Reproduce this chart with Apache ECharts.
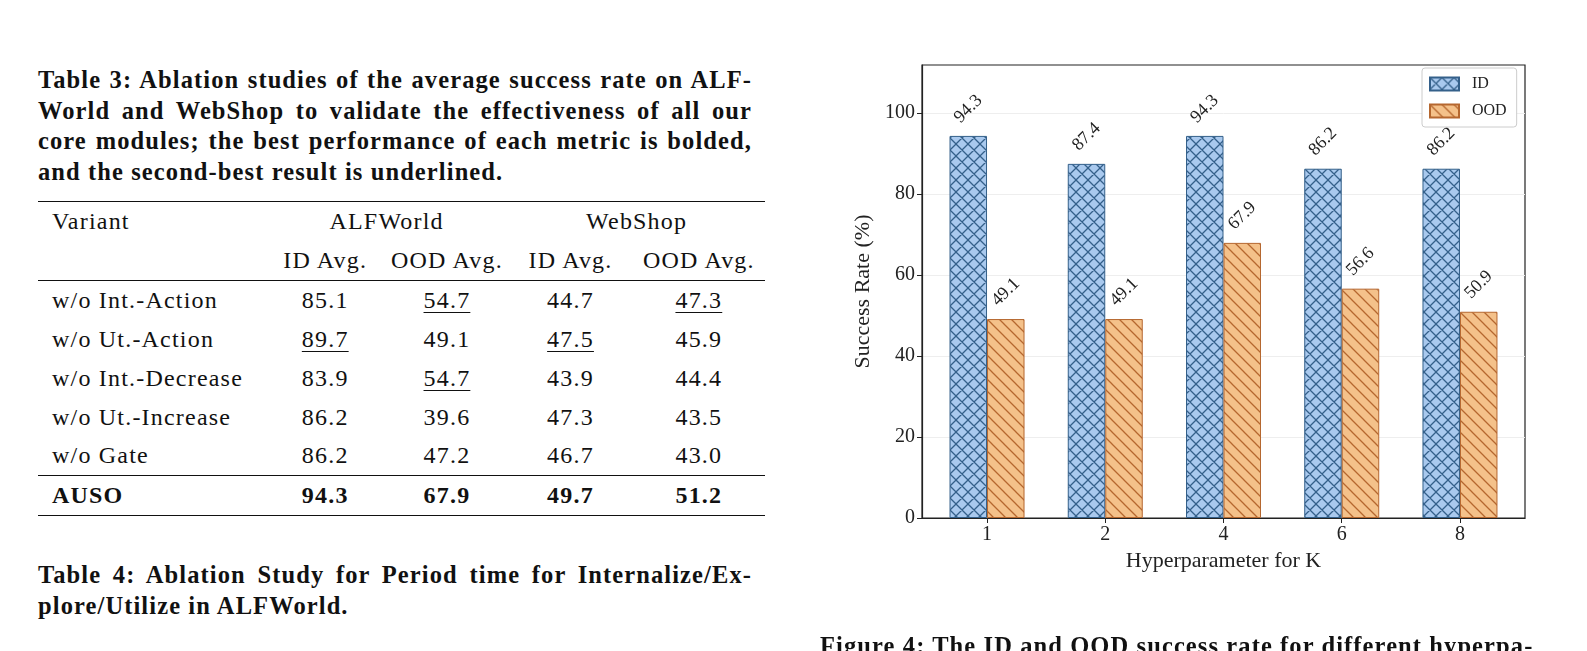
<!DOCTYPE html>
<html lang="en">
<head>
<meta charset="UTF-8">
<title>K ablation</title>
<style>
    html, body {
        margin: 0;
        padding: 0;
        overflow: hidden;
        background: #fff;
        font-family: "Liberation Serif", serif;
        color: #111;
    }
    #page {
        position: relative;
        width: 1587px;
        height: 651px;
        overflow: hidden;
    }
    .cap {
        position: absolute;
        font-weight: bold;
        font-size: 24.5px;
        letter-spacing: 1.1px;
        line-height: 30.5px;
    }
    .cap div {
        text-align: justify;
        text-align-last: justify;
        white-space: nowrap;
    }
    .cap div.last {
        text-align-last: left;
    }
    #tbl {
        position: absolute;
        left: 38px;
        top: 201px;
        width: 727px;
        border-collapse: collapse;
        font-size: 24px;
        letter-spacing: 1.2px;
    }
    #tbl td {
        padding: 0;
        text-align: center;
        vertical-align: middle;
    }
    #tbl td.v {
        text-align: left;
        padding-left: 14px;
    }
    #tbl tr.top td { border-top: 1.6px solid #111; }
    #tbl tr.mid td { border-bottom: 1.3px solid #111; }
    #tbl tr.best td { border-top: 1.3px solid #111; border-bottom: 1.6px solid #111; font-weight: bold; }
    .u { text-decoration: underline; text-underline-offset: 4px; text-decoration-thickness: 1px; }
    #main {
        position: absolute;
        left: 800px;
        top: 0;
        width: 787px;
        height: 651px;
    }
    #fig4 {
        position: absolute;
        left: 820px;
        top: 631px;
        font-weight: bold;
        font-size: 24.5px;
        letter-spacing: 1.1px;
        line-height: 30.5px;
        white-space: nowrap;
        z-index: 5;
    }
</style>
</head>
<body>
<div id="page">
    <div class="cap" style="left:38px; top:65px; width:714px;">
        <div>Table 3: Ablation studies of the average success rate on ALF-</div>
        <div>World and WebShop to validate the effectiveness of all our</div>
        <div>core modules; the best performance of each metric is bolded,</div>
        <div class="last">and the second-best result is underlined.</div>
    </div>

    <table id="tbl"></table>

    <div class="cap" style="left:38px; top:560px; width:714px;">
        <div>Table 4: Ablation Study for Period time for Internalize/Ex-</div>
        <div class="last">plore/Utilize in ALFWorld.</div>
    </div>

    <div id="main"></div>
    <div id="fig4">Figure 4: The ID and OOD success rate for different hyperpa-</div>
</div>

<script src="https://cdn.jsdelivr.net/npm/echarts@6/dist/echarts.min.js"></script>
<script>
    // chart data
    var kValues = ['1', '2', '4', '6', '8'];
    var idRates = [94.3, 87.4, 94.3, 86.2, 86.2];
    var oodRates = [49.1, 49.1, 67.9, 56.6, 50.9];
    var yTicks = [0, 20, 40, 60, 80, 100];

    // table data
    var variants = ['w/o Int.-Action', 'w/o Ut.-Action', 'w/o Int.-Decrease', 'w/o Ut.-Increase', 'w/o Gate', 'AUSO'];
    var alfId = [85.1, 89.7, 83.9, 86.2, 86.2, 94.3];
    var alfOod = [54.7, 49.1, 54.7, 39.6, 47.2, 67.9];
    var webId = [44.7, 47.5, 43.9, 47.3, 46.7, 49.7];
    var webOod = [47.3, 45.9, 44.4, 43.5, 43.0, 51.2];

    // ---- table ----
    function secondBest(col) {
        var u = col.slice().sort(function (a, b) { return b - a; })
            .filter(function (v, i, a) { return i === 0 || v !== a[i - 1]; });
        return u[1];
    }
    var cols = [alfId, alfOod, webId, webOod];
    var seconds = cols.map(secondBest);
    var colW = [217, 123, 125, 127, 135];

    var html = '';
    html += '<tr class="top" style="height:40px">' +
        '<td class="v" style="width:' + colW[0] + 'px">Variant</td>' +
        '<td colspan="2">ALFWorld</td><td colspan="2">WebShop</td></tr>';
    html += '<tr class="mid" style="height:39px"><td></td>' +
        '<td style="width:' + colW[1] + 'px">ID Avg.</td>' +
        '<td style="width:' + colW[2] + 'px">OOD Avg.</td>' +
        '<td style="width:' + colW[3] + 'px">ID Avg.</td>' +
        '<td style="width:' + colW[4] + 'px">OOD Avg.</td></tr>';
    for (var r = 0; r < variants.length; r++) {
        var last = r === variants.length - 1;
        html += '<tr' + (last ? ' class="best" style="height:40px"' : ' style="height:39px"') + '>';
        html += '<td class="v">' + variants[r] + '</td>';
        for (var c = 0; c < cols.length; c++) {
            var v = cols[c][r];
            var txt = v.toFixed(1);
            if (v === seconds[c]) txt = '<span class="u">' + txt + '</span>';
            html += '<td>' + txt + '</td>';
        }
        html += '</tr>';
    }
    document.getElementById('tbl').innerHTML = html;

    // ---- hatch patterns ----
    function hatch(fill, ink, cross) {
        var s = 12;
        var cv = document.createElement('canvas');
        cv.width = s;
        cv.height = s;
        var g = cv.getContext('2d');
        g.fillStyle = fill;
        g.fillRect(0, 0, s, s);
        g.strokeStyle = ink;
        g.lineWidth = 1.3;
        g.beginPath();
        // "\" lines
        g.moveTo(-1, -1); g.lineTo(s + 1, s + 1);
        g.moveTo(s - 1, -1); g.lineTo(s + 1, 1);
        g.moveTo(-1, s - 1); g.lineTo(1, s + 1);
        if (cross) {
            // "/" lines
            g.moveTo(-1, s + 1); g.lineTo(s + 1, -1);
            g.moveTo(-1, 1); g.lineTo(1, -1);
            g.moveTo(s - 1, s + 1); g.lineTo(s + 1, s - 1);
        }
        g.stroke();
        return { image: cv, repeat: 'repeat' };
    }

    var serif = 'Liberation Serif';
    var ink = '#222';
    var idInk = '#34608a';
    var oodInk = '#b5672f';

    var barLabel = {
        show: true,
        position: 'top',
        distance: 27,
        rotate: 45,
        align: 'center',
        verticalAlign: 'middle',
        fontFamily: serif,
        fontSize: 18,
        color: ink,
        formatter: function (p) { return p.value[1].toFixed(1); }
    };

    var myChart = echarts.init(document.getElementById('main'));
    var option = {
        animation: false,
        grid: {
            left: 122,
            right: 62,
            top: 65,
            bottom: 133,
            show: true,
            borderColor: ink,
            borderWidth: 1.2
        },
        legend: {
            data: ['ID', 'OOD'],
            orient: 'vertical',
            left: 622,
            top: 68,
            itemWidth: 29,
            itemHeight: 13,
            itemGap: 11,
            padding: [8, 10, 8, 7],
            borderColor: '#cccccc',
            borderWidth: 1,
            borderRadius: 3,
            backgroundColor: '#fff',
            icon: 'rect',
            textStyle: { fontFamily: serif, fontSize: 16, color: ink, padding: [0, 0, 0, 8] }
        },
        xAxis: {
            type: 'value',
            min: -0.55,
            max: 4.55,
            name: 'Hyperparameter for K',
            nameLocation: 'middle',
            nameGap: 28,
            nameTextStyle: { fontFamily: serif, fontSize: 22, color: ink },
            axisLine: { show: true, onZero: false, lineStyle: { color: ink, width: 1.2 } },
            axisTick: { show: true, length: 5, customValues: [0, 1, 2, 3, 4], lineStyle: { color: ink } },
            axisLabel: {
                customValues: [0, 1, 2, 3, 4],
                formatter: function (v) { return kValues[Math.round(v)]; },
                fontFamily: serif,
                fontSize: 20,
                color: ink,
                margin: 7
            },
            splitLine: { show: false }
        },
        yAxis: {
            type: 'value',
            min: 0,
            max: 111.8,
            name: 'Success Rate (%)',
            nameLocation: 'middle',
            nameGap: 48,
            nameTextStyle: { fontFamily: serif, fontSize: 22, color: ink },
            axisLine: { show: true, onZero: false, lineStyle: { color: ink, width: 1.2 } },
            axisTick: { show: true, length: 5, customValues: yTicks, lineStyle: { color: ink } },
            axisLabel: {
                customValues: yTicks,
                fontFamily: serif,
                fontSize: 20,
                color: ink,
                margin: 7
            },
            splitLine: { show: true, lineStyle: { color: '#eeeeee', width: 1 } }
        },
        series: [
            {
                name: 'ID',
                type: 'bar',
                barWidth: 37.5,
                barGap: '0%',
                data: idRates.map(function (v, i) { return [i, v]; }),
                itemStyle: {
                    color: hatch('#a9c9ee', idInk, true),
                    borderColor: idInk,
                    borderWidth: 1
                },
                label: barLabel
            },
            {
                name: 'OOD',
                type: 'bar',
                barWidth: 37.5,
                barGap: '0%',
                data: oodRates.map(function (v, i) { return [i, v]; }),
                itemStyle: {
                    color: hatch('#f4c18a', oodInk, false),
                    borderColor: oodInk,
                    borderWidth: 1
                },
                label: barLabel
            }
        ]
    };
    myChart.setOption(option);
</script>
</body>
</html>
